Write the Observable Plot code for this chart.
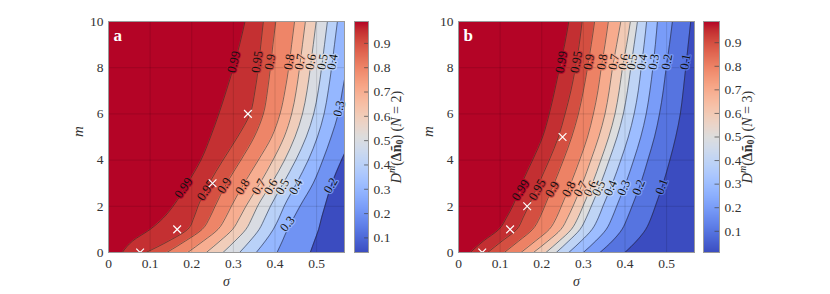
<!DOCTYPE html>
<html><head><meta charset="utf-8">
<script src="https://cdn.jsdelivr.net/npm/d3@7"></script>
<script src="https://cdn.jsdelivr.net/npm/@observablehq/plot@0.6"></script>
<style>
body{margin:0;background:#fff}
#fig{position:relative;width:830px;height:294px;font-family:"Liberation Serif","DejaVu Serif",serif}
#fig svg{position:absolute;left:0;top:0;font-family:"Liberation Serif","DejaVu Serif",serif}
#fig svg text, #fig svg tspan{font-family:"Liberation Serif","DejaVu Serif",serif !important}
</style></head><body><div id="fig"></div>
<script>
// ---------- data ----------
const xTicks = [0, 0.1, 0.2, 0.3, 0.4, 0.5];
const yTicks = [0, 2, 4, 6, 8, 10];
const cbTicks = [0.1, 0.2, 0.3, 0.4, 0.5, 0.6, 0.7, 0.8, 0.9];
const mGrid = [0, 0.5, 1, 1.5, 2, 3, 4, 5, 6, 7, 8, 9, 10];

// panel a (N = 2): sigma of each contour at m = mGrid
const levelsA = [0.2, 0.3, 0.4, 0.5, 0.6, 0.7, 0.8, 0.9, 0.95, 0.99];
const sigA_020 = [.485,.495,.505,.512,.520,.537,.560,.585,.605,.620,.630,.640,.650];
const sigA_030 = [.405,.418,.430,.445,.460,.492,.515,.535,.552,.562,.572,.580,.588];
const sigA_040 = [.355,.377,.396,.410,.422,.452,.480,.502,.518,.528,.536,.543,.550];
const sigA_050 = [.315,.340,.362,.376,.389,.420,.450,.475,.493,.504,.512,.519,.526];
const sigA_060 = [.275,.304,.330,.345,.358,.392,.423,.448,.466,.477,.485,.492,.499];
const sigA_070 = [.235,.268,.298,.315,.330,.364,.395,.422,.440,.451,.459,.466,.473];
const sigA_080 = [.190,.228,.263,.281,.295,.326,.360,.392,.412,.424,.433,.440,.447];
const sigA_090 = [.140,.185,.225,.243,.256,.284,.318,.350,.372,.382,.389,.395,.402];
const sigA_095 = [.090,.145,.190,.205,.215,.242,.275,.310,.340,.352,.360,.366,.372];
const sigA_099 = [.033,.058,.100,.132,.155,.190,.222,.245,.265,.283,.300,.315,.328];
const colorDomainA = [0.04, 0.99];

const labA_level = [0.99,0.95,0.9,0.8,0.7,0.6,0.5,0.4,0.3, 0.99,0.95,0.9,0.8,0.7,0.6,0.5,0.4,0.3,0.2];
const labA_sigma = [0.301,0.357,0.388,0.434,0.46,0.486,0.514,0.538,0.554, 0.18,0.234,0.278,0.322,0.361,0.39,0.418,0.45,0.43,0.534];
const labA_m     = [8.25,8.25,8.25,8.25,8.25,8.25,8.25,8.25,6.23, 2.8,2.7,2.9,2.85,2.85,2.85,2.85,2.85,1.24,2.9];
const labA_angle = [-76,-82,-80,-80,-80,-80,-80,-80,-76, -55,-55,-58,-58,-60,-62,-62,-62,-50,-60];
const crossA_sigma = [0.076, 0.165, 0.25, 0.335];
const crossA_m = [0, 1, 3, 6];

// panel b (N = 3)
const levelsB = [0.1, 0.2, 0.3, 0.4, 0.5, 0.6, 0.7, 0.8, 0.9, 0.95, 0.99];
const sigB_010 = [.400,.428,.450,.463,.473,.492,.508,.522,.533,.540,.546,.552,.558];
const sigB_020 = [.340,.370,.393,.406,.417,.438,.455,.471,.483,.492,.499,.507,.514];
const sigB_030 = [.300,.330,.355,.369,.380,.402,.421,.438,.451,.460,.467,.473,.478];
const sigB_040 = [.265,.295,.321,.336,.347,.370,.390,.408,.422,.432,.439,.446,.452];
const sigB_050 = [.235,.265,.292,.307,.319,.342,.362,.381,.396,.406,.414,.422,.430];
const sigB_060 = [.210,.242,.271,.287,.299,.322,.342,.361,.376,.386,.394,.404,.413];
const sigB_070 = [.180,.215,.246,.262,.275,.298,.318,.337,.352,.362,.370,.380,.390];
const sigB_080 = [.150,.185,.218,.235,.247,.270,.291,.310,.324,.335,.343,.352,.360];
const sigB_090 = [.110,.145,.178,.195,.207,.230,.252,.272,.288,.300,.310,.319,.327];
const sigB_095 = [.070,.105,.140,.155,.168,.193,.218,.240,.256,.270,.281,.290,.297];
const sigB_099 = [.028,.060,.097,.115,.130,.152,.178,.202,.218,.231,.243,.255,.265];
const colorDomainB = [0.01, 0.99];

const labB_level = [0.99,0.95,0.9,0.8,0.7,0.6,0.5,0.4,0.3,0.2,0.1, 0.99,0.95,0.9,0.8,0.7,0.6,0.5,0.4,0.3,0.2,0.1];
const labB_sigma = [0.247,0.283,0.313,0.345,0.373,0.397,0.417,0.441,0.469,0.501,0.545, 0.149,0.189,0.225,0.265,0.293,0.317,0.337,0.365,0.397,0.433,0.488];
const labB_m     = [8.25,8.25,8.25,8.25,8.25,8.25,8.25,8.25,8.25,8.25,8.25, 2.7,2.72,2.74,2.75,2.76,2.77,2.78,2.79,2.8,2.82,2.85];
const labB_angle = [-80,-80,-80,-80,-80,-80,-80,-80,-80,-80,-80, -58,-60,-60,-62,-62,-64,-64,-66,-66,-68,-70];
const crossB_sigma = [0.057, 0.124, 0.165, 0.25];
const crossB_m = [0, 1, 2, 5];

// ---------- style ----------
const coolwarm = ["#3b4cc0","#445acc","#4d68d7","#5775e1","#6282ea","#6c8ef1","#779af7","#82a5fb","#8db0fe","#98b9ff","#a3c2ff","#aec9fd","#b8d0f9","#c2d5f4","#ccd9ee","#d5dbe6","#dddddd","#e5d8d1","#ecd3c5","#f1ccb8","#f5c4ac","#f7bba0","#f7b194","#f7a687","#f49a7b","#f18d6f","#ec7f63","#e57058","#de604d","#d55042","#cb3e38","#c0282f","#b40426"];
const cw = d3.piecewise(d3.interpolateRgb, coolwarm);
const FONT = '"Liberation Serif", "DejaVu Serif", serif';
const TXT = "#333";
const xMax = 0.567;

const fig = document.getElementById("fig");

function panel({levels, sigmas, domain, labLevel, labSigma, labM, labAngle, crossSigma, crossM, marginLeft, letter}) {
  const contour = levels.flatMap((L, i) => mGrid.map((m, j) => ({level: L, m, s: sigmas[i][j]})));
  const labels = labLevel.map((L, i) => ({level: L, s: labSigma[i], m: labM[i], a: labAngle[i]}));
  const crosses = crossSigma.map((s, i) => ({s, m: crossM[i]}));
  return Plot.plot({
    width: 830, height: 294,
    marginLeft, marginRight: 830 - marginLeft - 236, marginTop: 21, marginBottom: 42,
    style: {fontFamily: FONT, fontSize: "13px", color: TXT, background: "transparent"},
    x: {domain: [0, xMax], label: null},
    y: {domain: [0, 10], label: null},
    color: {type: "linear", domain, interpolate: cw},
    marks: [
      Plot.rect([domain[0]], {x1: () => 0, x2: () => xMax, y1: () => 0, y2: () => 10, fill: d => d}),
      Plot.areaX(contour, {x1: () => 0, x2: "s", y: "m", z: "level", fill: "level", curve: "monotone-y", clip: true}),
      Plot.line(contour, {x: "s", y: "m", z: "level", stroke: "#222", strokeWidth: 0.55, curve: "monotone-y", clip: true}),
      Plot.gridX(xTicks, {stroke: "#000", strokeOpacity: 0.12}),
      Plot.gridY(yTicks, {stroke: "#000", strokeOpacity: 0.12}),
      Plot.text(labels, {x: "s", y: "m", text: d => String(d.level), rotate: "a", fill: "#111", stroke: "level", strokeWidth: 2.5, fontSize: 12.5, fontFamily: FONT}),
      Plot.dot(crosses, {x: "s", y: "m", symbol: "times", stroke: "white", r: 3.6, strokeWidth: 1.2, clip: true}),
      Plot.frame({stroke: "#9a9a9a"}),
      Plot.axisX(xTicks, {tickSize: 0, tickPadding: 6, tickFormat: d => String(d), fill: TXT, fontSize: 13.5, fontFamily: FONT, label: null}),
      Plot.axisY(yTicks, {tickSize: 0, tickPadding: 5, tickFormat: d => String(d), fill: TXT, fontSize: 13.5, fontFamily: FONT, label: null}),
      Plot.text([letter], {frameAnchor: "top-left", dx: 5, dy: 7, fill: "white", fontWeight: "bold", fontSize: 17, fontFamily: FONT}),
      Plot.text(["m"], {frameAnchor: "left", dx: -30, rotate: -90, fontStyle: "italic", fontSize: 15, fill: TXT, fontFamily: FONT}),
      Plot.text(["σ"], {frameAnchor: "bottom", dy: 33, fontStyle: "italic", fontSize: 14, fill: TXT, fontFamily: FONT})
    ]
  });
}

function colorbar({domain, marginLeft, w, N}) {
  const svg = Plot.plot({
    width: 830, height: 294,
    marginLeft, marginRight: 830 - marginLeft - w, marginTop: 21, marginBottom: 42,
    style: {fontFamily: FONT, fontSize: "13px", color: TXT, background: "transparent"},
    x: {domain: [0, 1], axis: null},
    y: {domain, axis: null},
    color: {type: "linear", domain, interpolate: cw},
    marks: [
      Plot.raster({x1: 0, x2: 1, y1: domain[0], y2: domain[1], width: 1, height: 231, fill: (x, y) => y}),
      Plot.ruleY(cbTicks, {x1: 0.72, x2: 1, stroke: "#444", strokeWidth: 0.7}),
      Plot.frame({stroke: "#9a9a9a"}),
      Plot.axisY(cbTicks, {anchor: "right", tickSize: 0, tickPadding: 5, tickFormat: d => String(d), fill: TXT, fontSize: 13.5, fontFamily: FONT, label: null})
    ]
  });
  const cx = marginLeft + w + 30, cy = 137;
  const t = d3.select(svg).append("text")
    .attr("transform", `translate(${cx},${cy}) rotate(-90)`)
    .attr("text-anchor", "middle").attr("dominant-baseline", "middle")
    .attr("font-family", FONT).attr("font-size", 14).attr("fill", TXT);
  t.append("tspan").attr("font-style", "italic").text("D");
  t.append("tspan").attr("font-style", "italic").attr("font-size", 10).attr("dy", -5).text("m");
  t.append("tspan").attr("dy", 5).text("(");
  t.append("tspan").attr("font-weight", "bold").text("Δñ");
  t.append("tspan").attr("font-weight", "bold").attr("font-size", 10).attr("dy", 3).text("0");
  t.append("tspan").attr("dy", -3).text(") (");
  t.append("tspan").attr("font-style", "italic").text("N");
  t.append("tspan").text(` = ${N})`);
  return svg;
}

fig.append(panel({
  levels: levelsA,
  sigmas: [sigA_020, sigA_030, sigA_040, sigA_050, sigA_060, sigA_070, sigA_080, sigA_090, sigA_095, sigA_099],
  domain: colorDomainA, labLevel: labA_level, labSigma: labA_sigma, labM: labA_m, labAngle: labA_angle,
  crossSigma: crossA_sigma, crossM: crossA_m, marginLeft: 108, letter: "a"
}));
fig.append(colorbar({domain: colorDomainA, marginLeft: 354, w: 14, N: 2}));
fig.append(panel({
  levels: levelsB,
  sigmas: [sigB_010, sigB_020, sigB_030, sigB_040, sigB_050, sigB_060, sigB_070, sigB_080, sigB_090, sigB_095, sigB_099],
  domain: colorDomainB, labLevel: labB_level, labSigma: labB_sigma, labM: labB_m, labAngle: labB_angle,
  crossSigma: crossB_sigma, crossM: crossB_m, marginLeft: 458, letter: "b"
}));
fig.append(colorbar({domain: colorDomainB, marginLeft: 703, w: 16, N: 3}));
</script></body></html>
